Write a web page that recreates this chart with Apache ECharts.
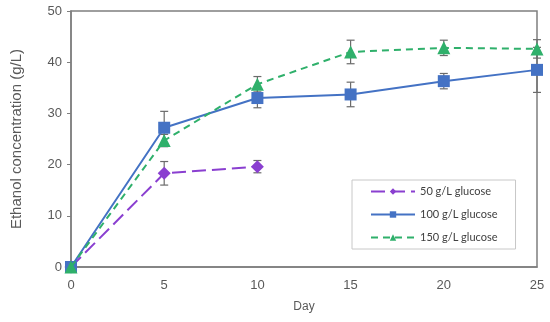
<!DOCTYPE html>
<html>
<head>
<meta charset="utf-8">
<script src="https://cdn.jsdelivr.net/npm/echarts@6/dist/echarts.min.js"></script>
<style>html,body{margin:0;padding:0;background:#fff;}#c{width:550px;height:322px;}</style>
</head>
<body>
<div id="c"></div>
<script>
const seriesNames = ['50 g/L glucose', '100 g/L glucose', '150 g/L glucose'];
const days50 = [0, 5, 10];
const vals50 = [0, 18.3, 19.6];
const err50 = [0, 2.3, 1.2];
const days100 = [0, 5, 10, 15, 20, 25];
const vals100 = [0, 27.2, 33.0, 33.7, 36.3, 38.5];
const err100 = [0, 3.2, 1.9, 2.4, 1.5, 4.4];
const days150 = [0, 5, 10, 15, 20, 25];
const vals150 = [0, 24.7, 35.7, 42.0, 42.8, 42.6];
const err150 = [0, 1.2, 1.5, 2.3, 1.5, 1.8];
const xTicks = [0, 5, 10, 15, 20, 25];
const yTicks = [0, 10, 20, 30, 40, 50];

const colors = ['#8A3FD0', '#4472C4', '#2FB06B'];

function pairs(d, v) { return d.map((x, i) => [x, v[i]]); }
function errData(d, v, e) { return d.map((x, i) => [x, v[i] - e[i], v[i] + e[i], e[i]]); }

function errSeries(data) {
  return {
    type: 'custom',
    z: 1,
    silent: true,
    data: data,
    renderItem: function (params, api) {
      if (api.value(3) === 0) return null;
      const lo = api.coord([api.value(0), api.value(1)]);
      const hi = api.coord([api.value(0), api.value(2)]);
      const w = 4;
      const st = { stroke: '#6b6b6b', lineWidth: 1.2 };
      return {
        type: 'group',
        children: [
          { type: 'line', shape: { x1: hi[0], y1: hi[1], x2: lo[0], y2: lo[1] }, style: st },
          { type: 'line', shape: { x1: hi[0] - w, y1: hi[1], x2: hi[0] + w, y2: hi[1] }, style: st },
          { type: 'line', shape: { x1: lo[0] - w, y1: lo[1], x2: lo[0] + w, y2: lo[1] }, style: st }
        ]
      };
    }
  };
}

const chart = echarts.init(document.getElementById('c'));
chart.setOption({
  animation: false,
  grid: { left: 71, right: 13, top: 11, bottom: 55, show: true, borderColor: '#7f7f7f', borderWidth: 1.5 },
  legend: {
    orient: 'vertical',
    left: 352, top: 180,
    width: 165,
    padding: [6, 18, 6, 18],
    itemGap: 12,
    itemWidth: 44, itemHeight: 8,
    borderColor: '#c8c8c8', borderWidth: 1,
    textStyle: { fontFamily: 'Lato', fontSize: 11, color: '#404040' },
    data: seriesNames
  },
  xAxis: {
    type: 'value', min: 0, max: 25, interval: 5,
    name: 'Day', nameLocation: 'middle', nameGap: 34,
    nameTextStyle: { fontFamily: 'Liberation Sans', fontSize: 12, color: '#595959' },
    axisLine: { lineStyle: { color: '#7f7f7f', width: 1.5 } },
    axisTick: { show: false },
    splitLine: { show: false },
    axisLabel: { fontFamily: 'Liberation Sans', fontSize: 13, color: '#595959', margin: 12,
      formatter: v => xTicks.includes(v) ? String(v) : '' }
  },
  yAxis: {
    type: 'value', min: 0, max: 50, interval: 10,
    name: 'Ethanol concentration (g/L)', nameLocation: 'middle', nameGap: 47,
    nameTextStyle: { fontFamily: 'Liberation Sans', fontSize: 15, color: '#595959' },
    axisLine: { show: true, lineStyle: { color: '#7f7f7f', width: 1.5 } },
    axisTick: { show: true, length: 4, lineStyle: { color: '#7f7f7f' } },
    splitLine: { show: false },
    axisLabel: { fontFamily: 'Liberation Sans', fontSize: 13, color: '#595959', margin: 9,
      formatter: v => yTicks.includes(v) ? String(v) : '' }
  },
  series: [
    errSeries(errData(days50, vals50, err50)),
    errSeries(errData(days100, vals100, err100)),
    errSeries(errData(days150, vals150, err150)),
    {
      name: seriesNames[0], type: 'line', z: 3,
      data: pairs(days50, vals50),
      symbol: 'diamond', symbolSize: 13,
      itemStyle: { color: colors[0] },
      lineStyle: { color: colors[0], width: 2, type: [14, 6] }
    },
    {
      name: seriesNames[1], type: 'line', z: 4,
      data: pairs(days100, vals100),
      symbol: 'rect', symbolSize: 12,
      itemStyle: { color: colors[1] },
      lineStyle: { color: colors[1], width: 2 }
    },
    {
      name: seriesNames[2], type: 'line', z: 5,
      data: pairs(days150, vals150),
      symbol: 'triangle', symbolSize: 13,
      itemStyle: { color: colors[2] },
      lineStyle: { color: colors[2], width: 2, type: [7, 5] }
    }
  ]
});
</script>
</body>
</html>
